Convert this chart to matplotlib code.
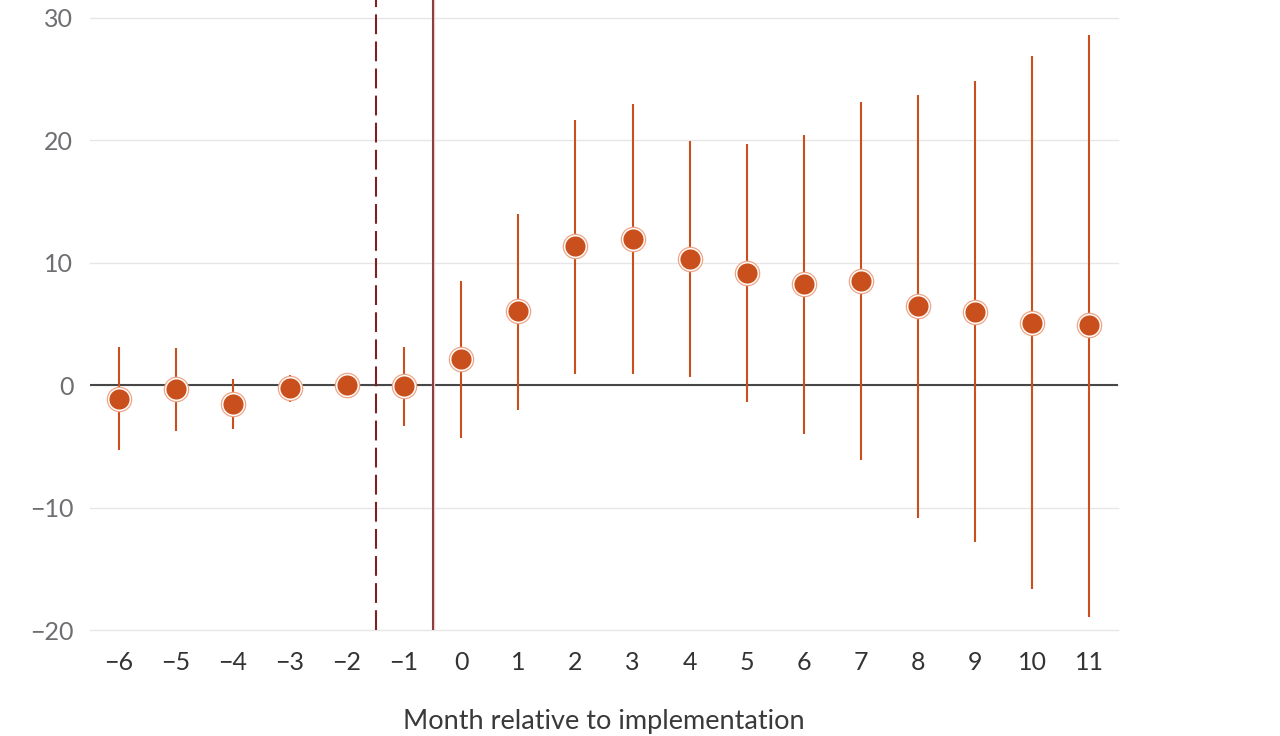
import numpy as np
import matplotlib
matplotlib.use("Agg")
import matplotlib.pyplot as plt

plt.rcParams['font.family'] = ['Lato', 'DejaVu Sans']

# --- Data ---
months = [-6, -5, -4, -3, -2, -1, 0, 1, 2, 3, 4, 5, 6, 7, 8, 9, 10, 11]
estimate = [-1.1, -0.35, -1.5, -0.2, 0.0, -0.1, 2.1, 6.05, 11.35, 11.95, 10.3, 9.15,
            8.25, 8.5, 6.45, 6.0, 5.1, 4.9]
ci_low = [-5.3, -3.75, -3.55, -1.35, 0.0, -3.35, -4.3, -2.0, 0.9, 0.95, 0.7, -1.36,
          -3.95, -6.1, -10.85, -12.85, -16.65, -18.95]
ci_high = [3.1, 3.0, 0.5, 0.85, 0.0, 3.1, 8.55, 14.0, 21.7, 23.0, 19.95, 19.7,
           20.45, 23.1, 23.7, 24.85, 26.9, 28.6]
y_ticks = [-20, -10, 0, 10, 20, 30]

orange = '#C9501C'
dark_red = '#7A2224'

fig = plt.figure(figsize=(12.8, 7.36), dpi=100)
ax = fig.add_axes([90 / 1280, (736 - 630) / 736, (1118 - 90) / 1280, 630 / 736])

ax.set_xlim(-6.5, 11.5)
ax.set_ylim(-20, 31.47)

# gridlines and zero line
for yt in y_ticks:
    ax.axhline(yt, color='#E6E6E6', lw=1.0, zorder=0, clip_on=False)
ax.axhline(0, color='#474747', lw=1.5, zorder=1)

# reference lines
ax.axvline(-1.5, color=dark_red, lw=1.5, dashes=(9.5, 3.5), zorder=1)
ax.axvline(-0.5, color='#EBCFCF', lw=2.4, zorder=1)
ax.axvline(-0.5, color=dark_red, lw=1.2, zorder=1)

# confidence intervals
ax.vlines(months, ci_low, ci_high, color=orange, lw=1.5, zorder=2)

# point estimates with a white gap and a thin outer ring
ax.plot(months, estimate, 'o', ms=17.5, mfc='white', mec='#EFA688', mew=0.9,
        ls='none', zorder=3)
ax.plot(months, estimate, 'o', ms=14.5, mfc=orange, mec='none', ls='none', zorder=4)

for s in ax.spines.values():
    s.set_visible(False)

ax.set_xticks(months)
ax.set_xticklabels([f'\u2212{abs(m)}' if m < 0 else str(m) for m in months])
ax.set_yticks(y_ticks)
ax.set_yticklabels([f'\u2212{abs(v)}' if v < 0 else str(v) for v in y_ticks])
ax.tick_params(axis='x', length=0, pad=15, labelsize=18, labelcolor='#333333')
ax.tick_params(axis='y', length=0, pad=12, labelsize=18, labelcolor='#6E6E73')

ax.set_xlabel('Month relative to implementation', fontsize=19.5, color='#3A3A3A',
              labelpad=25)

fig.savefig('out.png', dpi=100, facecolor='white')
